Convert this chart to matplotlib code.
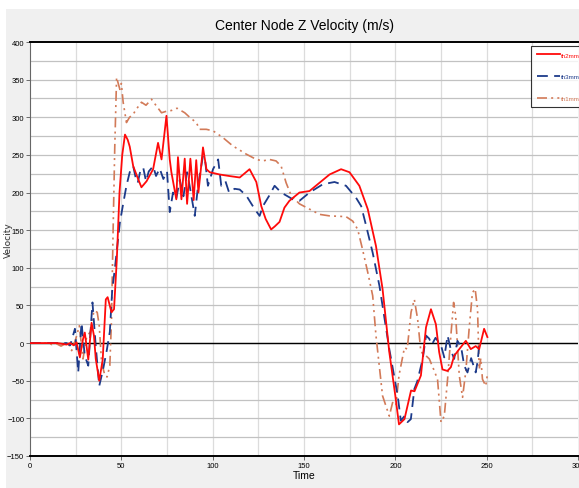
import matplotlib
matplotlib.use("Agg")
import matplotlib.pyplot as plt
from matplotlib.patches import Rectangle
import numpy as np

plt.rcParams['font.family'] = ['Liberation Sans Narrow', 'Liberation Sans', 'DejaVu Sans']

title = "Center Node Z Velocity (m/s)"
xlabel = "Time"
ylabel = "Velocity"
series_names = ["th2mm", "th3mm", "th1mm"]

t_th2 = [0, 5, 10, 15, 20, 22, 24, 25.5, 27.3, 29, 30, 31.9, 33.7, 35, 36, 37.9, 39.8, 41.5, 42.5, 44.6,
         46, 47.5, 49, 50.5, 52, 53.5, 54.6, 56.5, 59.2, 61, 63.8, 67.4, 70.1, 72, 74.7, 76.5, 77.4, 80.1,
         81, 82.9, 84.7, 86, 87.8, 89.6, 91, 92.2, 93.5, 94.7, 96.6, 98.4, 103.8, 109, 114.8, 120.2, 123.9,
         126.6, 129, 132, 134, 136.6, 139.3, 142, 147.5, 153, 158.5, 164, 170.3, 174.9, 180.3, 184.9, 189.4,
         193, 196.7, 200, 202, 205, 208.6, 210.5, 214, 216.8, 219.5, 222.2, 224, 225.8, 228.5, 230.4, 232.2,
         235, 238.6, 241.3, 244, 245.9, 248.6, 250.4]
v_th2 = [0, 0, 0, 0, -2, 0, -3, 1, -19, 5, 14, -22, 27, 10, -21, -50, -22, 58, 61, 41,
         45, 110, 200, 250, 277, 270, 261, 235, 218, 207, 215, 231, 266, 244, 302, 244, 227, 191,
         247, 191, 245, 185, 245, 190, 243, 200, 230, 260, 231, 227, 224, 222, 220, 231, 214,
         182, 165, 151, 155, 161, 180, 189, 200, 202, 213, 224, 231, 227, 209, 178, 129,
         72, -12, -70, -108, -101, -63, -64, -43, 21, 45, 25, -12, -35, -37, -32, -17,
         -8, 3, -8, -4, -8, 19, 8]

t_th3 = [0, 5, 10, 15, 20, 22, 24.6, 26.4, 28.2, 30, 31.9, 34.2, 36, 37.9, 40, 42, 43.7, 45, 46.5, 47.4,
         49.2, 51, 52.8, 54.6, 56.5, 58, 59, 60.5, 62, 63.5, 65, 67.4, 69, 71, 73, 75, 76.5, 78.3, 80, 82,
         84, 86, 87.4, 90.2, 92, 94.7, 96, 97.4, 100.2, 103, 104.7, 107, 109, 112, 114.8, 118.4, 123,
         125.7, 127.5, 131, 133.9, 137.5, 143.9, 147.5, 153, 160.3, 166.7, 173, 178.5, 181.3, 184, 187.6,
         191.3, 196.7, 201.3, 203, 205, 206.7, 208.5, 210.4, 212, 215, 216.8, 218.5, 220, 222, 225, 226.8,
         228.6, 230.5, 232.2, 234, 236, 237.7, 239.5, 241.5, 244, 245, 245.9, 247.7]
v_th3 = [0, 0, 0, 0, 0, -3, 19, -39, 27, -17, -30, 54, -4, -57, -35, -10, 15, 70, 100, 120,
         160, 185, 209, 227, 235, 218, 213, 230, 233, 215, 228, 235, 222, 232, 218, 228, 174, 200, 191, 217,
         195, 227, 209, 169, 209, 249, 240, 209, 231, 244, 209, 215, 200, 205, 204, 196, 178,
         169, 182, 196, 209, 200, 191, 189, 200, 211, 214, 209, 193, 182, 156, 120,
         76, -8, -70, -103, -97, -105, -101, -61, -51, -21, 10, 6, -2, 7, -3, -19,
         10, -10, -21, 3, -5, -30, -39, -20, -39, -25, -4, -5]

t_th1 = [0, 5, 10, 12, 14.6, 17, 20, 21.9, 22.8, 25, 27, 29, 31, 33, 35, 36.8, 37.9, 39.2, 41, 42.2,
         43.7, 44.6, 45.5, 46.4, 47.4, 49.2, 50, 51, 52.8, 54.5, 56.5, 58, 61, 63.5, 66.5, 69.2, 72, 74.7,
         77.4, 80.5, 84.7, 87.4, 91, 92.9, 96.5, 100.2, 105.6, 111, 118.4, 123.9, 127.5, 131, 134.7, 137.5,
         140.2, 143, 147.5, 153, 158.5, 164, 173, 176.7, 179.4, 182, 184.9, 187.6, 189.4, 193, 196.7, 198.5,
         200.3, 202, 205, 206.5, 208.6, 210.4, 212.2, 214, 216, 218.6, 221, 223.1, 225, 226.8, 228.6, 230.4,
         231.9, 233, 235, 236.8, 238.6, 240.4, 242.2, 243.7, 245, 245.9, 246.8, 247.7, 249.5, 250.5]
v_th1 = [0, 0, 0, -2, -1, -4, 0, -4, -10, 5, 23, -21, 8, 15, 43, 41, 23, -26, -43, -45,
         -30, 30, 150, 260, 353, 337, 345, 320, 293, 300, 304, 310, 320, 316, 324, 315, 306, 308,
         309, 312, 306, 300, 293, 284, 284, 282, 273, 262, 251, 244, 242, 244, 242, 235,
         213, 196, 185, 178, 171, 169, 168, 162, 151, 125, 94, 63, 10, -70, -97, -79,
         -83, -43, -6, -8, 41, 58, 32, -12, -15, -21, -35, -48, -105, -97, -48, 10,
         54, 37, -43, -72, -37, 19, 67, 72, 45, -35, -20, -48, -57, -40]

x_ticks = [0, 50, 100, 150, 200, 250, 300]
y_ticks = [-150, -100, -50, 0, 50, 100, 150, 200, 250, 300, 350, 400]

W, H = 579, 489
fig = plt.figure(figsize=(W / 100, H / 100), dpi=100, facecolor='#f0f0f0')
# white margins at top and left
fig.patches.append(Rectangle((0, 1 - 10 / H), 1, 10 / H, transform=fig.transFigure,
                             facecolor='white', edgecolor='none', zorder=-10))
fig.patches.append(Rectangle((0, 0), 6 / W, 1, transform=fig.transFigure,
                             facecolor='white', edgecolor='none', zorder=-10))

ax = fig.add_axes([30 / W, 1 - 457 / H, 548 / W, 414 / H])
ax.set_facecolor('white')
ax.set_xlim(0, 300)
ax.set_ylim(-150, 400)

# grid every 25
for gx in np.arange(25, 300, 25):
    ax.axvline(gx, color='#dcdcdc', lw=0.9, zorder=0)
for gy in np.arange(-125, 400, 25):
    ax.axhline(gy, color='#c2c2c2', lw=0.9, zorder=0)
ax.axhline(0, color='black', lw=1.0, zorder=1)

ax.plot(t_th2, v_th2, color='#ff0a0a', lw=1.3, label=series_names[0], zorder=4)
ax.plot(t_th3, v_th3, color='#1c3a8a', lw=1.3, ls=(0, (6, 3.5)), label=series_names[1], zorder=3)
ax.plot(t_th1, v_th1, color='#d27a58', lw=1.2, ls=(0, (6, 2.5, 1.2, 2.5, 1.2, 2.5)),
        label=series_names[2], zorder=2)

ax.set_xticks(x_ticks)
ax.set_yticks(y_ticks)
ax.tick_params(axis='both', labelsize=5.5, length=3, width=0.6, color='#555555', pad=1.2)
ax.spines['right'].set_visible(False)
ax.spines['top'].set_color('black')
ax.spines['top'].set_linewidth(1.4)
ax.spines['bottom'].set_color('black')
ax.spines['bottom'].set_linewidth(1.4)
ax.spines['left'].set_color('#666666')
ax.spines['left'].set_linewidth(0.8)

ax.set_xlabel(xlabel, fontsize=7.5, labelpad=1)
fig.text(8 / W, 1 - 240 / H, ylabel, rotation=90, ha='center', va='center',
         fontsize=6.5, family='DejaVu Sans', color='#333333')

fig.text(304 / W, 1 - 26 / H, title, ha='center', va='center', fontsize=10)

leg = ax.legend(loc='upper left', bbox_to_anchor=(531 / W, 1 - 47 / H),
                bbox_transform=fig.transFigure, fontsize=4.5, frameon=True, fancybox=False,
                edgecolor='black', handlelength=3.6, labelspacing=2.6, borderpad=1.0,
                handletextpad=0.2, borderaxespad=0)
leg.get_frame().set_linewidth(0.8)
for txt, ln in zip(leg.get_texts(), leg.get_lines()):
    txt.set_color(ln.get_color())

fig.savefig('out.png', dpi=100, facecolor=fig.get_facecolor())
